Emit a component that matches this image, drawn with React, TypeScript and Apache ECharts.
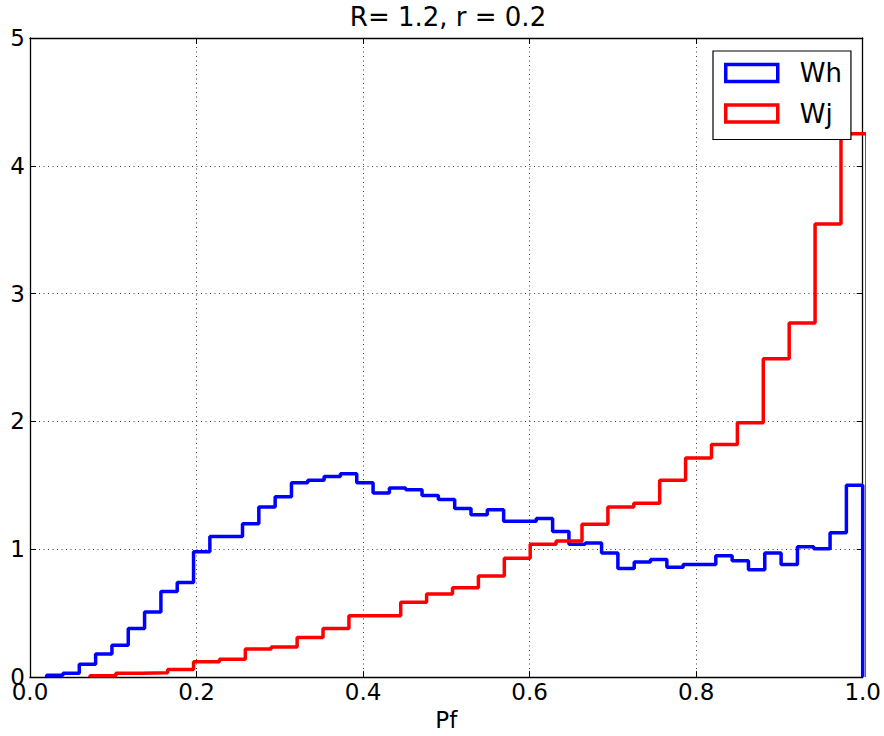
import React, { useEffect, useRef } from "react";
import * as echarts from "echarts";

const TITLE = "R= 1.2, r = 0.2";
const X_NAME = "Pf";
const X_MIN = 0;
const X_MAX = 1;
const X_STEP = 0.2;
const Y_MIN = 0;
const Y_MAX = 5;
const Y_STEP = 1;

const WH_NAME = "Wh";
const WJ_NAME = "Wj";
// histogram ranges (first and last bin edge) and bin heights
const WH_RANGE = [0.02, 1.0];
const WH_VALUES = [
  0.015, 0.03, 0.1, 0.18, 0.25, 0.38, 0.51, 0.67, 0.74, 0.98,
  1.1, 1.1, 1.2, 1.33, 1.41, 1.52, 1.54, 1.57, 1.59, 1.52,
  1.44, 1.48, 1.465, 1.42, 1.39, 1.32, 1.27, 1.31, 1.22, 1.22,
  1.24, 1.14, 1.04, 1.05, 0.97, 0.85, 0.9, 0.92, 0.86, 0.88,
  0.88, 0.95, 0.91, 0.84, 0.97, 0.88, 1.02, 1.005, 1.13, 1.5,
];
const WJ_RANGE = [0.072, 1.005];
const WJ_VALUES = [
  0.01, 0.03, 0.035, 0.06, 0.12, 0.14, 0.22, 0.235, 0.31, 0.38,
  0.48, 0.48, 0.585, 0.65, 0.7, 0.79, 0.93, 1.04, 1.065, 1.195,
  1.33, 1.36, 1.54, 1.715, 1.82, 1.99, 2.49, 2.77, 3.545, 4.25,
];

const FONT = "DejaVu Sans";

function stepPoints(range: number[], values: number[]) {
  const n = values.length;
  const w = (range[1] - range[0]) / n;
  const pts: number[][] = [[range[0], 0]];
  values.forEach((v, i) => {
    pts.push([range[0] + i * w, v]);
    pts.push([range[0] + (i + 1) * w, v]);
  });
  pts.push([range[1], 0]);
  return pts;
}

export default function App() {
  const ref = useRef<HTMLDivElement>(null);
  useEffect(() => {
    document.body.style.margin = "0";
    if (!ref.current) return;
    const chart = echarts.init(ref.current, null, { renderer: "svg" });
    const gridLine = { show: true, lineStyle: { color: "#000", width: 1, type: [1, 3.5], opacity: 0.75 } };
    const frameLine = { show: true, onZero: false, lineStyle: { color: "#000", width: 1.3 } };
    const tick = { show: true, inside: true, length: 6, lineStyle: { color: "#000", width: 1 } };
    const option: any = {
      animation: false,
      backgroundColor: "#fff",
      title: {
        text: TITLE,
        left: 448,
        top: 4,
        textAlign: "center",
        padding: 0,
        textStyle: { fontFamily: FONT, fontSize: 26, fontWeight: "normal", color: "#000" },
      },
      legend: {
        orient: "vertical",
        left: 713,
        top: 51,
        padding: [9, 9, 13, 11],
        itemWidth: 52,
        itemHeight: 17,
        itemGap: 14.5,
        backgroundColor: "#fff",
        borderColor: "#000",
        borderWidth: 1.2,
        borderRadius: 0,
        textStyle: { fontFamily: FONT, fontSize: 26, color: "#000", lineHeight: 24, padding: [0, 0, 0, 17] },
        data: [
          { name: WH_NAME, icon: "rect", itemStyle: { color: "rgba(0,0,0,0)", borderColor: "#0000ff", borderWidth: 3.5 } },
          { name: WJ_NAME, icon: "rect", itemStyle: { color: "rgba(0,0,0,0)", borderColor: "#ff0000", borderWidth: 3.5 } },
        ],
      },
      grid: { left: 30, right: 21, top: 38, bottom: 53, containLabel: false },
      xAxis: [
        {
          type: "value",
          min: X_MIN,
          max: X_MAX,
          interval: X_STEP,
          position: "bottom",
          axisLine: frameLine,
          axisTick: tick,
          splitLine: gridLine,
          axisLabel: {
            formatter: (v: number) => v.toFixed(1),
            fontFamily: FONT,
            fontSize: 23,
            color: "#000",
            margin: 3,
          },
          name: X_NAME,
          nameLocation: "middle",
          nameGap: 29,
          nameTextStyle: { fontFamily: FONT, fontSize: 23, color: "#000" },
        },
        {
          type: "value",
          min: X_MIN,
          max: X_MAX,
          interval: X_STEP,
          position: "top",
          axisLine: frameLine,
          axisTick: tick,
          splitLine: { show: false },
          axisLabel: { show: false },
        },
      ],
      yAxis: [
        {
          type: "value",
          min: Y_MIN,
          max: Y_MAX,
          interval: Y_STEP,
          position: "left",
          axisLine: frameLine,
          axisTick: tick,
          splitLine: gridLine,
          axisLabel: { fontFamily: FONT, fontSize: 23, color: "#000", margin: 5 },
        },
        {
          type: "value",
          min: Y_MIN,
          max: Y_MAX,
          interval: Y_STEP,
          position: "right",
          axisLine: frameLine,
          axisTick: tick,
          splitLine: { show: false },
          axisLabel: { show: false },
        },
      ],
      series: [
        {
          name: WH_NAME,
          type: "line",
          xAxisIndex: 0,
          yAxisIndex: 0,
          data: stepPoints(WH_RANGE, WH_VALUES),
          showSymbol: false,
          symbol: "none",
          clip: true,
          color: "#0000ff",
          lineStyle: { color: "#0000ff", width: 3.5 },
        },
        {
          name: WJ_NAME,
          type: "line",
          xAxisIndex: 0,
          yAxisIndex: 0,
          data: stepPoints(WJ_RANGE, WJ_VALUES),
          showSymbol: false,
          symbol: "none",
          clip: true,
          color: "#ff0000",
          lineStyle: { color: "#ff0000", width: 3.5 },
        },
      ],
    };
    chart.setOption(option);
    return () => chart.dispose();
  }, []);
  return <div ref={ref} style={{ width: 884, height: 736 }} />;
}
